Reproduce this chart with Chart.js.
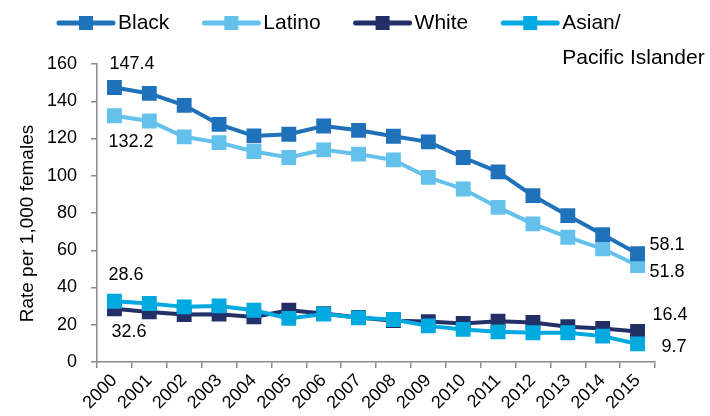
<!DOCTYPE html>
<html>
<head>
<meta charset="utf-8">
<script src="https://cdn.jsdelivr.net/npm/chart.js@4/dist/chart.umd.min.js"></script>
<style>
  html, body { margin: 0; padding: 0; background: #fff; }
</style>
</head>
<body>
<canvas id="chart" width="710" height="416"></canvas>
<script>
const years = ["2000", "2001", "2002", "2003", "2004", "2005", "2006", "2007",
               "2008", "2009", "2010", "2011", "2012", "2013", "2014", "2015"];

const black  = [147.4, 144.2, 137.8, 127.6, 121.4, 122.3, 126.7, 124.4, 121.2, 118.2, 109.8, 102.1, 89.3, 78.6, 68.4, 58.1];
const latino = [132.2, 129.4, 120.9, 117.8, 113.0, 109.8, 113.9, 111.6, 108.5, 99.1, 92.9, 83.0, 74.2, 67.0, 60.8, 51.8];
const white  = [28.6, 26.9, 25.5, 25.7, 24.2, 27.8, 26.0, 23.9, 22.2, 21.7, 20.7, 21.9, 21.2, 18.9, 18.0, 16.4];
const asian  = [32.6, 31.4, 29.6, 30.1, 27.8, 23.4, 25.7, 23.7, 22.8, 19.4, 17.5, 16.2, 15.7, 15.7, 13.9, 9.7];

const seriesNames = ["Black", "Latino", "White", "Asian/Pacific Islander"];
const legendLines = [["Black"], ["Latino"], ["White"], ["Asian/", "Pacific Islander"]];
const seriesColors = ["#1f72ba", "#63c1ec", "#233067", "#00a9e0"];
const yTicks = [0, 20, 40, 60, 80, 100, 120, 140, 160];

const FONT = '"Liberation Sans", Arial, sans-serif';
Chart.defaults.font.family = FONT;
Chart.defaults.color = "#000";

// end labels: which series, which point, nudge from the point
const endLabels = [
    { ds: 0, i: 0, dx: -5, dy: -23 },
    { ds: 1, i: 0, dx: -6, dy: 26 },
    { ds: 2, i: 0, dx: -6, dy: -34 },
    { ds: 3, i: 0, dx: -3, dy: 31 },
    { ds: 0, i: 15, dx: 12, dy: -9 },
    { ds: 1, i: 15, dx: 12, dy: 7 },
    { ds: 2, i: 15, dx: 15, dy: -16 },
    { ds: 3, i: 15, dx: 24, dy: 3 },
];

const valueLabels = {
    id: "valueLabels",
    afterDatasetsDraw(chart) {
        const ctx = chart.ctx;
        ctx.save();
        ctx.font = "18px " + FONT;
        ctx.fillStyle = "#000";
        ctx.textAlign = "left";
        ctx.textBaseline = "middle";
        endLabels.forEach((l) => {
            const pt = chart.getDatasetMeta(l.ds).data[l.i];
            const v = chart.data.datasets[l.ds].data[l.i];
            ctx.fillText(v.toFixed(1), pt.x + l.dx, pt.y + l.dy);
        });
        ctx.restore();
    },
};

const topLegend = {
    id: "topLegend",
    afterDraw(chart) {
        const ctx = chart.ctx;
        ctx.save();
        ctx.font = "21px " + FONT;
        ctx.textBaseline = "middle";
        ctx.textAlign = "left";
        let x = 59;
        const y = 23;
        legendLines.forEach((lines, k) => {
            ctx.strokeStyle = seriesColors[k];
            ctx.lineWidth = 5;
            ctx.lineCap = "round";
            ctx.beginPath();
            ctx.moveTo(x, y);
            ctx.lineTo(x + 54, y);
            ctx.stroke();
            ctx.fillStyle = seriesColors[k];
            ctx.fillRect(x + 20, y - 7, 14, 14);
            ctx.fillStyle = "#000";
            lines.forEach((t, j) => {
                ctx.fillText(t, x + 59, y + j * 35);
            });
            x += 59 + ctx.measureText(lines[0]).width + 35;
        });
        ctx.restore();
    },
};

const values = [black, latino, white, asian];
const drawOrder = [2, 3, 1, 0];

new Chart(document.getElementById("chart"), {
    type: "line",
    data: {
        labels: years,
        datasets: values.map((d, k) => ({
            label: seriesNames[k],
            data: d,
            borderColor: seriesColors[k],
            backgroundColor: seriesColors[k],
            borderWidth: 4,
            pointStyle: "rect",
            pointRadius: 10.5,
            pointBorderWidth: 0,
            pointBackgroundColor: seriesColors[k],
            tension: 0,
            order: drawOrder[k],
        })),
    },
    options: {
        responsive: false,
        animation: false,
        devicePixelRatio: 1,
        layout: { padding: { top: 64, right: 55, bottom: 0, left: 0 } },
        plugins: {
            legend: { display: false },
            tooltip: { enabled: false },
        },
        scales: {
            x: {
                offset: true,
                grid: { offset: true, drawOnChartArea: false, tickLength: 6, color: "#8a8a8a", lineWidth: 1.5 },
                border: { color: "#8a8a8a", width: 1.5 },
                ticks: { font: { size: 18 }, maxRotation: 45, minRotation: 45, padding: 2, autoSkip: false },
                afterFit: (s) => { s.height = 54; },
            },
            y: {
                min: 0,
                max: 160,
                afterBuildTicks: (s) => { s.ticks = yTicks.map((v) => ({ value: v })); },
                grid: { drawOnChartArea: false, tickLength: 6, color: "#8a8a8a", lineWidth: 1.5 },
                border: { color: "#8a8a8a", width: 1.5 },
                ticks: { font: { size: 18 }, padding: 14 },
                title: { display: true, text: "Rate per 1,000 females    ", font: { size: 19 }, padding: { top: 16 } },
                afterFit: (s) => { s.width = 97; },
            },
        },
    },
    plugins: [valueLabels, topLegend],
});
</script>
</body>
</html>
